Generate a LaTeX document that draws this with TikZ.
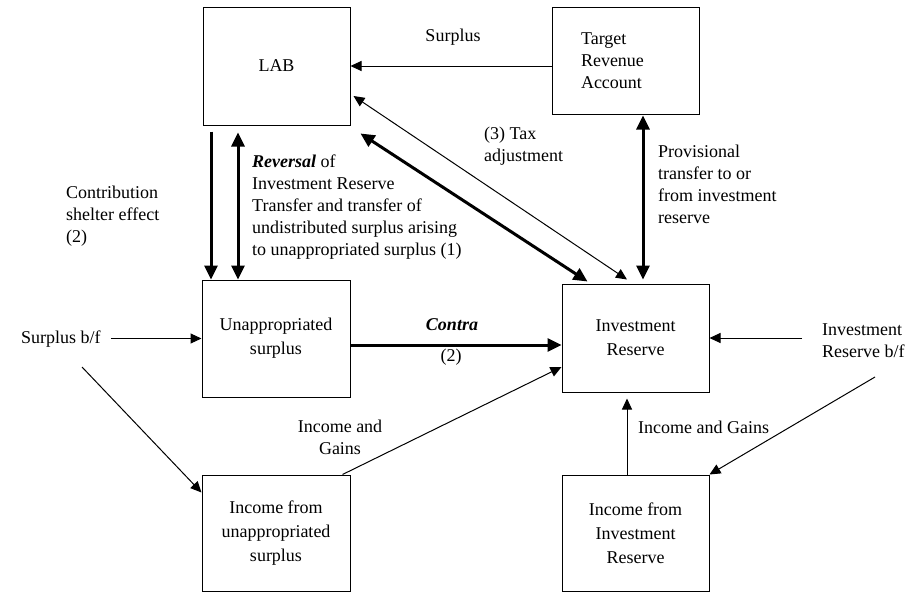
\documentclass[tikz,border=0pt]{standalone}
\usepackage{fontspec}
\setmainfont{Liberation Serif}
\usetikzlibrary{arrows.meta}
\tikzset{
  tipthin/.tip={Triangle[length=11pt,width=10pt]},
  tipthick/.tip={Triangle[length=14pt,width=13pt]}
}
\begin{document}
\begin{tikzpicture}[x=1pt,y=-1pt,
  every node/.style={font=\fontsize{18}{22}\selectfont},
  acct/.style={draw, line width=1pt, inner sep=0pt, align=center,
    font=\fontsize{18}{24}\selectfont},
  lbl/.style={inner sep=0pt, align=left},
  thinarr/.style={line width=1pt, arrows={-tipthin}},
  thindbl/.style={line width=1pt, arrows={tipthin-tipthin}},
  thickarr/.style={line width=3pt, arrows={-tipthick}},
  thickdbl/.style={line width=3pt, arrows={tipthick-tipthick}},
  plainline/.style={line width=1pt}]
\useasboundingbox (0,0) rectangle (919,592);
\fill[white] (0,0) rectangle (919,592);

% boxes
\node[acct, minimum width=147pt, minimum height=118pt] (lab) at (276.5,66) {LAB};
\node[acct, minimum height=107pt, text width=89pt, inner xsep=29pt, align=left,
      font=\fontsize{18}{22}\selectfont] (tra) at (625.5,60.5) {Target\\Revenue\\Account};
\node[acct, minimum width=148pt, minimum height=117pt] (unap) at (276,338.5) {Unappropriated\\surplus};
\node[acct, minimum width=147pt, minimum height=108pt] (ir) at (635.5,338) {Investment\\Reserve};
\node[acct, minimum width=148pt, minimum height=116pt] (iu) at (276,533) {Income from\\unappropriated\\surplus};
\node[acct, minimum width=147pt, minimum height=116pt] (iir) at (635.5,533) {Income from\\Investment\\Reserve};

% labels
\node[lbl] (slbl) at (453,37) {Surplus};
\node[lbl, anchor=west] (cse) at (66,216) {Contribution\\shelter effect\\(2)};
\node[lbl, anchor=west] (rev) at (252,207.5) {\textbf{\textit{Reversal}} of\\Investment Reserve\\Transfer and transfer of\\undistributed surplus arising\\to unappropriated surplus (1)};
\node[lbl, anchor=west] (tax) at (484,146) {(3) Tax\\adjustment};
\node[lbl, anchor=west] (prov) at (658,184.5) {Provisional\\transfer to or\\from investment\\reserve};
\node[lbl] (contra) at (452,325) {\textbf{\textit{Contra}}};
\node[lbl] (two) at (451,357) {(2)};
\node[lbl, align=center] (igl) at (340,437.5) {Income and\\Gains};
\node[lbl, anchor=west] (igr) at (638,427) {Income and Gains};
\node[lbl, anchor=west] (sbf) at (21,339) {Surplus b/f};
\node[lbl, anchor=west] (irbf) at (822,340.5) {Investment\\Reserve b/f};

\coordinate (sbfd) at (82,367);
\coordinate (irbfd) at (875,377);
\coordinate (ca) at ([yshift=-6.5pt]unap.east);

% connectors
\draw[thinarr] (tra.west |- lab.east) -- (lab.east);
\draw[thickarr] ([xshift=-65.5pt,yshift=-6pt]lab.south) -- ([xshift=-65pt]unap.north);
\draw[thickdbl] ([xshift=-38.5pt,yshift=-7pt]lab.south) -- ([xshift=-38pt]unap.north);
\draw[thickdbl] ([shift={(10pt,-8pt)}]lab.south east) -- ([shift={(26pt,2pt)}]ir.north west);
\draw[thindbl] ([shift={(3pt,-30pt)}]lab.east) -- ([shift={(-8.5pt,4pt)}]ir.north);
\draw[thickdbl] ([xshift=17.5pt,yshift=-1pt]tra.south) -- ([xshift=7.5pt,yshift=4pt]ir.north);
\draw[thickarr] (ca) -- (ca -| ir.west);
\draw[thinarr, shorten <=10pt] (sbf.east |- unap.west) -- (unap.west);
\draw[thinarr] (sbfd) -- ([yshift=-18pt]iu.north west);
\draw[thinarr] ([xshift=-8pt]iu.north east) -- ([yshift=-29pt]ir.west);
\draw[thinarr] ([xshift=-8.5pt]iir.north) -- ([xshift=-8.5pt,yshift=-6pt]ir.south);
\draw[thinarr, shorten <=20pt] (irbf.west |- ir.east) -- (ir.east);
\draw[thinarr] (irbfd) -- (iir.north east);
\end{tikzpicture}
\end{document}
